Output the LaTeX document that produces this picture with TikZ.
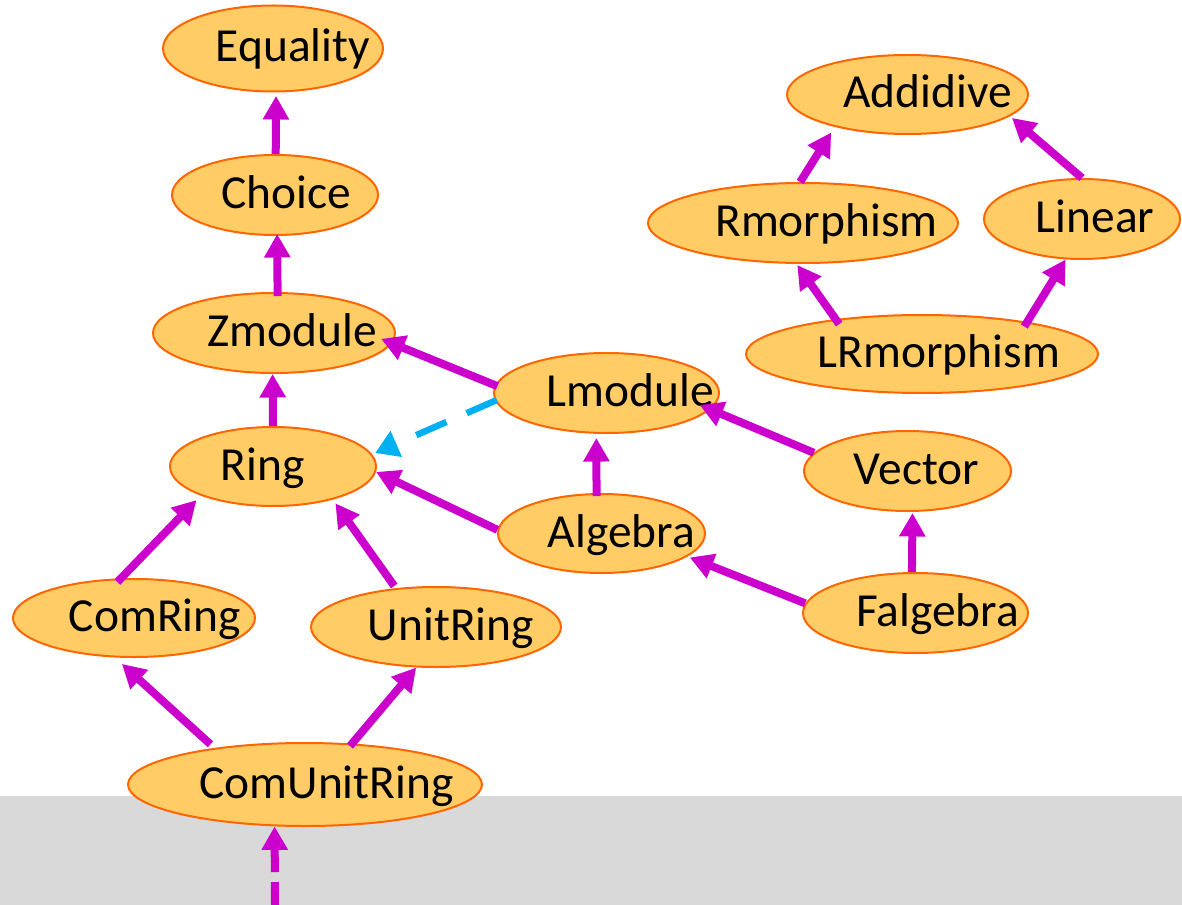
\documentclass[tikz,border=0pt]{standalone}
\usepackage{fontspec}
\setmainfont{Carlito}
\usetikzlibrary{arrows.meta,shapes.geometric}

% one drawing unit
\newdimen\pxu \pxu=0.02cm

\definecolor{nodefill}{HTML}{FFCC66}
\definecolor{nodeline}{HTML}{FF6600}
\definecolor{linkpink}{HTML}{CC00CC}
\definecolor{linkblue}{HTML}{00B0F0}
\definecolor{floorgray}{HTML}{D9D9D9}

% label set off horizontally inside its ellipse
\newcommand\shiftedlabel[2]{\makebox[0pt]{\hspace*{#1\pxu}#2}}

\begin{document}
\begin{tikzpicture}[x=0.02cm, y=-0.02cm,
  cls/.style 2 args={ellipse, draw=nodeline, fill=nodefill, line width=2\pxu,
    inner sep=0pt, minimum width=#1\pxu, minimum height=#2\pxu,
    font=\fontsize{27pt}{32pt}\selectfont, text height=27\pxu, text depth=0pt},
  link/.style={draw=linkpink, line width=8\pxu,
    -{Triangle[length=0.47cm,width=0.5cm]}},
  feedlink/.style={link, dash pattern=on 0.46cm off 0.2cm},
  weaklink/.style={draw=linkblue, line width=6.5\pxu, dash pattern=on 0.66cm off 0.44cm,
    -{Triangle[length=0.46cm,width=0.54cm]}}]

\useasboundingbox (0,0) rectangle (1182,905);
\fill[white] (0,0) rectangle (1182,796);
\fill[floorgray] (0,796) rectangle (1182,905);

% class hierarchy
\node[cls={220}{86}] (eq)   at (273,48.5)  {\shiftedlabel{40}{Equality}};
\node[cls={206}{80}] (ch)   at (275,195)   {\shiftedlabel{22}{Choice}};
\node[cls={242}{80}] (zm)   at (274,333)   {\shiftedlabel{37}{Zmodule}};
\node[cls={206}{79}] (ring) at (273,466.5) {\shiftedlabel{-21}{Ring}};
\node[cls={242}{78}] (cr)   at (134,618)   {\shiftedlabel{42}{ComRing}};
\node[cls={250}{80}] (ur)   at (436,627)   {\shiftedlabel{30}{UnitRing}};
\node[cls={354}{83}] (cur)  at (305,784.5) {\shiftedlabel{43}{ComUnitRing}};
\node[cls={225}{80}] (lm)   at (606.5,393) {\shiftedlabel{48}{Lmodule}};
\node[cls={207}{79}] (alg)  at (601.5,533.5) {\shiftedlabel{40}{Algebra}};
\node[cls={207}{80}] (vec)  at (907.5,471) {\shiftedlabel{18}{Vector}};
\node[cls={225}{80}] (falg) at (915.5,613) {\shiftedlabel{44}{Falgebra}};

% morphism hierarchy
\node[cls={241}{79}] (add)  at (907.5,94.5) {\shiftedlabel{40}{Addidive}};
\node[cls={310}{80}] (rm)   at (803,223)    {\shiftedlabel{47}{Rmorphism}};
\node[cls={196}{80}] (lin)  at (1082,219)   {\shiftedlabel{26}{Linear}};
\node[cls={352}{78}] (lrm)  at (922,354)    {\shiftedlabel{34}{LRmorphism}};

\coordinate (feed) at (275,905);

% inheritance links
\draw[link, shorten >=3.5\pxu] (ch.89) -- (eq.-86);
\draw[link, shorten <=-4\pxu, shorten >=-2\pxu] (zm.85.7) -- (ch.-87.1);
\draw[link] (ring.90) -- (zm.268.6);
\draw[link, shorten <=-2.5\pxu, shorten >=-11.75\pxu] (lm.176.4) -- (zm.-5.1);
\draw[weaklink, shorten <=-2\pxu, shorten >=3.25\pxu] (lm.184) -- (ring.7.8);
\draw[link] (alg.178.1) -- (ring.-3.3);
\draw[link, shorten <=-3\pxu, shorten >=4.2\pxu] (alg.97.9) -- (lm.-104.8);
\draw[link, shorten >=-11.7\pxu] (vec.169.2) -- (lm.-9.7);
\draw[link, shorten >=1\pxu] (falg.95) -- (vec.-83.6);
\draw[link, shorten >=2.5\pxu] (falg.175.9) -- (alg.-15.8);
\draw[link, shorten <=-5.3\pxu, shorten >=6.2\pxu] (cr.108.9) -- (ring.202.7);
\draw[link, shorten <=2.65\pxu, shorten >=4.55\pxu] (ur.136.9) -- (ring.-29.8);
\draw[link, shorten <=5.35\pxu, shorten >=9.6\pxu] (cur.158) -- (cr.-116.4);
\draw[link, shorten <=-3.35\pxu] (cur.41) -- (ur.-116.2);
\draw[feedlink] (feed) -- (cur.-126.3);

\draw[link, shorten >=6.6\pxu] (rm.94.3) -- (add.204.3);
\draw[link, shorten >=2.6\pxu] (lin.90) -- (add.-12.3);
\draw[link, shorten <=-6.2\pxu, shorten >=1.3\pxu] (lrm.158.3) -- (rm.-99.6);
\draw[link, shorten <=-5.5\pxu] (lrm.17.1) -- (lin.-112.8);
\end{tikzpicture}
\end{document}
